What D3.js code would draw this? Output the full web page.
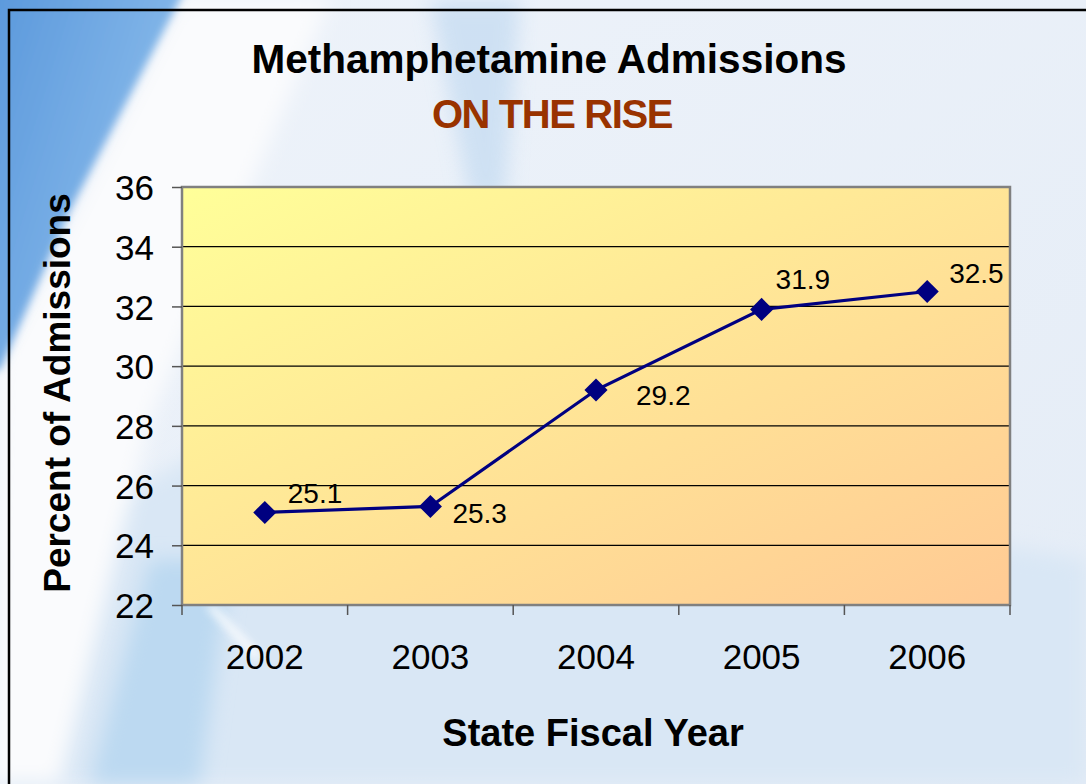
<!DOCTYPE html>
<html>
<head>
<meta charset="utf-8">
<script src="https://cdn.jsdelivr.net/npm/d3@7"></script>
<style>
  html, body { margin: 0; padding: 0; background: #fff; }
  svg { display: block; font-family: "Liberation Sans", Arial, sans-serif; }
</style>
</head>
<body>
<div id="chart"></div>
<script>
// chart values
const years = ["2002", "2003", "2004", "2005", "2006"];
const percents = [25.1, 25.3, 29.2, 31.9, 32.5];
const yTicks = [22, 24, 26, 28, 30, 32, 34, 36];
const yDomain = [22, 36];
// where each value label sits relative to its marker
const labelShift = [[23, -9], [22, 17], [40, 15], [14, -20], [22, -9]];

function init() {
    const W = 1086, H = 784;
    const plot = { left: 182, right: 1010, top: 187, bottom: 605 };

    const svg = d3.select("#chart").append("svg")
        .attr("width", W)
        .attr("height", H);

    const defs = svg.append("defs");

    // --- background, a soft blue/white photo look ---
    const bg = defs.append("linearGradient")
        .attr("id", "bg").attr("x1", "0%").attr("y1", "0%").attr("x2", "100%").attr("y2", "100%");
    bg.append("stop").attr("offset", "0%").attr("stop-color", "#eef3fa");
    bg.append("stop").attr("offset", "100%").attr("stop-color", "#e4ecf6");

    const blue = defs.append("linearGradient")
        .attr("id", "blueCorner").attr("x1", "0%").attr("y1", "0%").attr("x2", "100%").attr("y2", "60%");
    blue.append("stop").attr("offset", "0%").attr("stop-color", "#5a98dc");
    blue.append("stop").attr("offset", "100%").attr("stop-color", "#8fbfec");

    const blur = defs.append("filter").attr("id", "blur")
        .attr("x", "-20%").attr("y", "-20%").attr("width", "140%").attr("height", "140%");
    blur.append("feGaussianBlur").attr("stdDeviation", 10);
    const blurSmall = defs.append("filter").attr("id", "blurS")
        .attr("x", "-20%").attr("y", "-20%").attr("width", "140%").attr("height", "140%");
    blurSmall.append("feGaussianBlur").attr("stdDeviation", 4);

    svg.append("rect").attr("width", W).attr("height", H).attr("fill", "url(#bg)");

    // lower light-blue wash
    svg.append("path")
        .attr("d", "M0,560 L260,420 L1086,560 L1086,784 L0,784 Z")
        .attr("fill", "#d9e7f5").attr("filter", "url(#blur)");
    // light blue streak behind the title
    svg.append("path")
        .attr("d", "M430,0 L520,0 L505,200 L470,200 Z")
        .attr("fill", "#c7ddf2").attr("opacity", 0.8).attr("filter", "url(#blur)");
    // white diagonal band
    svg.append("path")
        .attr("d", "M180,0 L330,0 L150,420 L60,784 L-10,784 L0,360 Z")
        .attr("fill", "#fafbfd").attr("filter", "url(#blur)");
    // top-left blue corner
    svg.append("path")
        .attr("d", "M-10,-10 L185,-10 L70,210 L0,370 L-10,370 Z")
        .attr("fill", "url(#blueCorner)").attr("filter", "url(#blurS)");
    // light blue band lower left
    svg.append("path")
        .attr("d", "M150,560 L230,560 L200,784 L90,784 Z")
        .attr("fill", "#bcd9f1").attr("filter", "url(#blur)");
    // pale streak under plot
    svg.append("path")
        .attr("d", "M205,606 L215,606 L262,655 L255,660 Z")
        .attr("fill", "#ffffff").attr("opacity", 0.8).attr("filter", "url(#blurS)");

    // black frame
    svg.append("path")
        .attr("d", `M9,${H} L9,10 L${W},10`)
        .attr("fill", "none").attr("stroke", "#000").attr("stroke-width", 2.5);

    // --- titles ---
    svg.append("text")
        .attr("x", 549).attr("y", 73)
        .attr("text-anchor", "middle")
        .attr("font-size", 40.5).attr("font-weight", "bold")
        .attr("fill", "#000")
        .text("Methamphetamine Admissions");

    svg.append("text")
        .attr("x", 552).attr("y", 128)
        .attr("text-anchor", "middle")
        .attr("font-size", 40).attr("font-weight", "bold")
        .attr("letter-spacing", "-1.4px")
        .attr("fill", "#993300")
        .text("ON THE RISE");

    // --- scales ---
    const x = d3.scaleBand()
        .domain(years)
        .range([plot.left, plot.right]);

    const y = d3.scaleLinear()
        .domain(yDomain)
        .range([plot.bottom, plot.top]);

    // plot area fill
    const pg = defs.append("linearGradient")
        .attr("id", "plotfill")
        .attr("x1", "0%").attr("y1", "0%")
        .attr("x2", "100%").attr("y2", "100%");
    pg.append("stop").attr("offset", "0%").attr("stop-color", "#ffff99");
    pg.append("stop").attr("offset", "100%").attr("stop-color", "#ffca94");

    svg.append("rect")
        .attr("x", plot.left).attr("y", plot.top)
        .attr("width", plot.right - plot.left)
        .attr("height", plot.bottom - plot.top)
        .attr("fill", "url(#plotfill)");

    // gridlines
    svg.append("g")
        .selectAll("line")
        .data(yTicks.filter(t => t > yDomain[0] && t < yDomain[1]))
        .enter().append("line")
        .attr("x1", plot.left).attr("x2", plot.right)
        .attr("y1", d => y(d)).attr("y2", d => y(d))
        .attr("stroke", "#000").attr("stroke-width", 1.2);

    // plot border
    svg.append("rect")
        .attr("x", plot.left).attr("y", plot.top)
        .attr("width", plot.right - plot.left)
        .attr("height", plot.bottom - plot.top)
        .attr("fill", "none")
        .attr("stroke", "#808080").attr("stroke-width", 2.5);

    // y axis
    const yAxis = svg.append("g")
        .attr("transform", `translate(${plot.left},0)`)
        .call(d3.axisLeft(y).tickValues(yTicks).tickSize(10).tickPadding(18).tickFormat(d3.format("d")));
    yAxis.select(".domain").remove();
    yAxis.selectAll(".tick line").attr("stroke", "#555").attr("stroke-width", 1.5);
    yAxis.selectAll("text")
        .attr("font-size", 35).attr("fill", "#000")
        .attr("font-family", "Liberation Sans, Arial, sans-serif")
        .attr("dy", "0.36em");

    // x axis labels
    const xAxis = svg.append("g")
        .attr("transform", `translate(0,${plot.bottom})`)
        .call(d3.axisBottom(x).tickSize(0).tickPadding(0));
    xAxis.select(".domain").remove();
    xAxis.selectAll("text")
        .attr("font-size", 35).attr("fill", "#000")
        .attr("font-family", "Liberation Sans, Arial, sans-serif")
        .attr("dy", 0).attr("y", 64);

    // x ticks at band edges
    const edges = years.map(d => x(d)).concat([plot.right]);
    svg.append("g")
        .selectAll("line")
        .data(edges)
        .enter().append("line")
        .attr("x1", d => d).attr("x2", d => d)
        .attr("y1", plot.bottom).attr("y2", plot.bottom + 10)
        .attr("stroke", "#555").attr("stroke-width", 1.5);

    // axis titles
    svg.append("text")
        .attr("x", 593).attr("y", 746)
        .attr("text-anchor", "middle")
        .attr("font-size", 38).attr("font-weight", "bold")
        .attr("fill", "#000")
        .text("State Fiscal Year");

    svg.append("text")
        .attr("transform", "translate(70,393) rotate(-90)")
        .attr("text-anchor", "middle")
        .attr("font-size", 37).attr("font-weight", "bold")
        .attr("fill", "#000")
        .text("Percent of Admissions");

    // --- series ---
    const points = years.map((yr, i) => ({ year: yr, value: percents[i], shift: labelShift[i] }));
    const cx = d => x(d.year) + x.bandwidth() / 2;

    svg.append("path")
        .datum(points)
        .attr("fill", "none")
        .attr("stroke", "#000080")
        .attr("stroke-width", 3.2)
        .attr("d", d3.line().x(cx).y(d => y(d.value)));

    svg.append("g")
        .selectAll("path")
        .data(points)
        .enter().append("path")
        .attr("transform", d => `translate(${cx(d)},${y(d.value)})`)
        .attr("d", d3.symbol(d3.symbolDiamond2, 340))
        .attr("fill", "#000080");

    svg.append("g")
        .selectAll("text")
        .data(points)
        .enter().append("text")
        .attr("x", d => cx(d) + d.shift[0])
        .attr("y", d => y(d.value) + d.shift[1])
        .attr("font-size", 28)
        .attr("fill", "#000")
        .text(d => d.value.toFixed(1));
}

window.onload = init;
</script>
</body>
</html>
